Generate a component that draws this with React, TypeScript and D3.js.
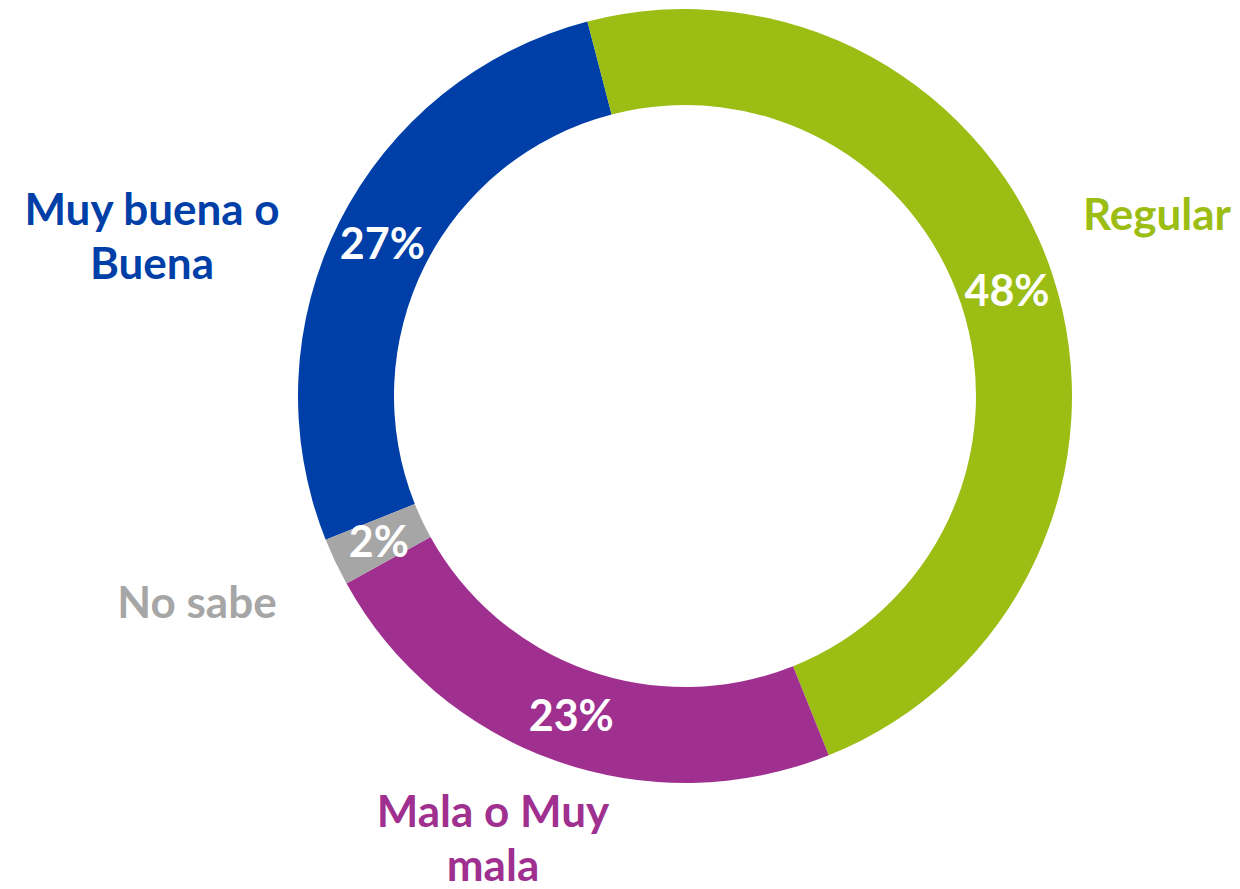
import React from "react";
import * as d3 from "d3";

const categories = ["Muy buena o Buena", "Regular", "Mala o Muy mala", "No sabe"];
const values = [27, 48, 23, 2];
const percentLabels = ["27%", "48%", "23%", "2%"];
const labelLines = [["Muy buena o", "Buena"], ["Regular"], ["Mala o Muy", "mala"], ["No sabe"]];
const colors = ["#003FA8", "#9BBD14", "#A03090", "#A6A6A6"];

const W = 1240;
const H = 889;
const cx = 685;
const cy = 396;
const outerR = 387;
const innerR = 291;
const startDeg = -111.8;

// outer category label anchor (centre x, first baseline y)
const outerLabelPos: [number, number][] = [
  [152, 225],
  [1157, 230],
  [493, 827],
  [197, 618],
];

export default function App() {
  const pie = d3
    .pie<number>()
    .sort(null)
    .value((d) => d)
    .startAngle((startDeg * Math.PI) / 180)
    .endAngle(((startDeg + 360) * Math.PI) / 180);
  const arcs = pie(values);
  const arc = d3.arc<d3.PieArcDatum<number>>().innerRadius(innerR).outerRadius(outerR);
  const font = "Lato, 'Open Sans', sans-serif";
  return (
    <div style={{ position: "absolute", left: 0, top: 0 }}>
      <svg width={W} height={H} style={{ display: "block" }}>
        <rect width={W} height={H} fill="#ffffff" />
        <g transform={`translate(${cx},${cy})`}>
          {arcs.map((a, i) => (
            <path key={categories[i]} d={arc(a) || ""} fill={colors[i]} />
          ))}
          {arcs.map((a, i) => {
            const [x, y] = arc.centroid(a);
            return (
              <text
                key={"p" + i}
                x={x}
                y={y}
                dy="0.36em"
                textAnchor="middle"
                fill="#ffffff"
                fontFamily={font}
                fontWeight={700}
                fontSize={43}
              >
                {percentLabels[i]}
              </text>
            );
          })}
        </g>
        {labelLines.map((lines, i) => (
          <text
            key={"l" + i}
            textAnchor="middle"
            fill={colors[i]}
            fontFamily={font}
            fontWeight={700}
            fontSize={44}
          >
            {lines.map((ln, j) => (
              <tspan key={j} x={outerLabelPos[i][0]} y={outerLabelPos[i][1] + j * 54}>
                {ln}
              </tspan>
            ))}
          </text>
        ))}
      </svg>
    </div>
  );
}
